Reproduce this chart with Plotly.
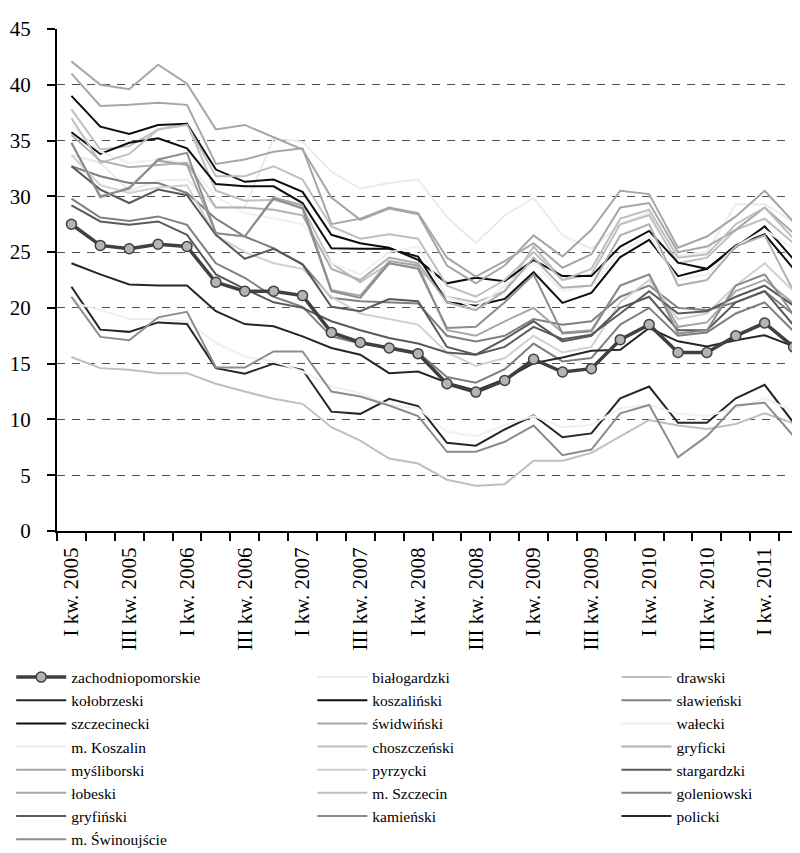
import plotly.graph_objects as go

quarters = [f"{q} kw. {y}" for y in range(2005, 2012) for q in ["I", "II", "III", "IV"]][:26]
x_idx = list(range(len(quarters)))
label_idx = list(range(0, 26, 2))
label_text = [quarters[i] for i in label_idx]

zachodniopomorskie = [27.5, 25.6, 25.3, 25.7, 25.5, 22.3, 21.5, 21.5, 21.1, 17.8, 16.9, 16.4, 15.9, 13.2, 12.45, 13.5, 15.4, 14.25, 14.55, 17.15, 18.5, 16.0, 16.0, 17.5, 18.65, 16.5]
bialogardzki = [33.7, 33.0, 30.5, 31.4, 31.5, 29.0, 29.0, 35.2, 34.9, 32.2, 30.7, 31.2, 31.5, 28.15, 25.8, 28.3, 29.85, 26.5, 25.3, 27.5, 28.5, 24.7, 25.0, 29.3, 29.3, 27.7]
drawski = [37.8, 34.2, 34.5, 36.0, 36.5, 30.5, 29.6, 29.7, 29.0, 24.0, 22.3, 24.0, 23.6, 21.0, 20.5, 21.5, 25.5, 22.5, 23.0, 27.5, 28.3, 24.0, 24.5, 27.0, 28.0, 25.8]
kolobrzeski = [21.9, 18.05, 17.85, 18.7, 18.55, 14.6, 14.1, 15.0, 14.45, 10.7, 10.5, 11.85, 11.2, 7.9, 7.65, 9.1, 10.35, 8.4, 8.75, 11.9, 12.95, 9.7, 9.7, 11.9, 13.1, 9.7]
koszalinski = [39.0, 36.25, 35.6, 36.4, 36.5, 32.4, 31.3, 31.5, 30.4, 26.55, 25.8, 25.4, 24.3, 22.2, 22.7, 22.4, 24.3, 22.85, 22.85, 25.5, 26.9, 24.05, 23.5, 25.45, 27.3, 24.35]
slawienski = [32.7, 31.8, 31.2, 31.2, 30.3, 28.0, 26.4, 25.35, 23.9, 20.9, 20.6, 20.5, 20.4, 17.5, 17.0, 17.5, 19.0, 18.5, 18.8, 21.0, 22.0, 20.0, 19.8, 20.5, 21.5, 19.4]
szczecinecki = [35.75, 33.8, 34.8, 35.2, 34.3, 31.1, 30.9, 30.9, 29.4, 25.35, 25.3, 25.3, 24.6, 20.5, 20.2, 20.8, 23.2, 20.45, 21.35, 24.55, 26.1, 22.85, 23.5, 25.6, 26.6, 23.5]
swidwinski = [41.0, 38.1, 38.2, 38.4, 38.2, 32.9, 33.3, 34.0, 34.3, 27.5, 28.0, 29.0, 28.5, 24.5, 22.8, 24.2, 25.8, 23.6, 24.8, 29.0, 29.4, 25.0, 25.5, 27.0, 29.0, 26.7]
walecki = [36.4, 34.0, 33.0, 33.3, 33.0, 30.0, 28.5, 28.0, 27.5, 24.0, 23.0, 25.0, 25.5, 21.0, 20.0, 22.0, 24.0, 21.5, 22.0, 25.0, 26.5, 22.5, 23.0, 25.5, 27.0, 25.3]
m_koszalin = [20.5, 19.8, 19.0, 19.0, 18.8, 16.85, 15.65, 15.2, 14.3, 12.95, 12.35, 11.3, 11.0, 8.9, 8.5, 9.5, 10.3, 9.3, 9.5, 11.0, 11.3, 10.5, 10.3, 11.0, 11.9, 10.7]
choszczenski = [37.0, 33.0, 33.8, 36.0, 36.4, 31.8, 31.8, 32.7, 31.5, 27.3, 26.2, 26.6, 26.2, 22.0, 21.0, 22.5, 25.0, 22.5, 23.5, 28.0, 28.8, 24.5, 24.8, 27.5, 29.0, 26.2]
gryficki = [35.5, 33.2, 32.6, 32.8, 33.0, 29.0, 29.0, 28.8, 28.3, 23.5, 22.5, 24.5, 24.0, 20.5, 19.8, 21.5, 24.5, 21.8, 22.0, 26.5, 27.5, 22.0, 22.5, 25.5, 26.5, 21.5]
mysliborski = [34.8, 29.9, 30.8, 33.2, 32.8, 26.7, 26.4, 29.9, 29.2, 21.6, 21.1, 24.2, 23.8, 18.0, 17.5, 18.8, 20.0, 17.8, 18.0, 22.0, 23.0, 18.3, 18.7, 21.5, 22.5, 20.4]
pyrzycki = [33.7, 31.0, 30.3, 30.8, 31.0, 26.5, 25.0, 24.0, 23.5, 21.0, 19.5, 19.0, 18.5, 16.0, 14.8, 15.5, 17.5, 16.0, 16.5, 20.5, 22.5, 19.0, 19.5, 22.0, 24.0, 21.5]
stargardzki = [32.7, 30.6, 29.4, 30.6, 30.1, 26.55, 24.4, 25.3, 23.9, 20.1, 19.7, 20.8, 20.6, 16.5, 15.8, 17.2, 18.8, 17.0, 17.5, 20.0, 21.0, 18.0, 18.0, 20.5, 21.5, 18.45]
lobeski = [42.1, 40.0, 39.6, 41.8, 40.1, 36.0, 36.4, 35.3, 34.2, 29.9, 27.9, 28.9, 28.4, 23.8, 22.2, 23.8, 26.5, 24.6, 27.0, 30.5, 30.2, 25.4, 26.4, 28.2, 30.5, 27.7]
m_szczecin = [15.6, 14.6, 14.45, 14.15, 14.15, 13.2, 12.5, 11.85, 11.4, 9.3, 8.1, 6.5, 6.05, 4.6, 4.05, 4.2, 6.3, 6.3, 7.0, 8.5, 9.95, 9.45, 9.15, 9.6, 10.55, 9.65]
goleniowski = [29.8, 28.1, 27.8, 28.2, 27.45, 24.0, 22.7, 21.0, 20.1, 17.45, 16.8, 16.5, 16.0, 13.8, 13.3, 14.5, 16.8, 15.2, 15.5, 18.5, 20.0, 17.5, 17.8, 19.5, 20.5, 17.9]
gryfinski = [29.2, 27.75, 27.45, 27.75, 26.55, 23.0, 21.7, 20.5, 20.0, 18.8, 18.0, 17.3, 16.8, 16.0, 15.8, 16.5, 18.3, 17.2, 17.6, 19.5, 21.5, 19.5, 19.7, 21.0, 22.0, 20.2]
kamienski = [34.8, 30.0, 30.7, 33.3, 33.9, 26.7, 26.4, 29.8, 28.9, 21.5, 20.9, 24.0, 23.5, 18.2, 18.3, 20.5, 23.0, 17.7, 17.9, 22.0, 23.0, 17.7, 18.0, 22.0, 23.0, 19.4]
policki = [24.0, 23.0, 22.1, 22.0, 22.0, 19.7, 18.55, 18.35, 17.45, 16.4, 15.8, 14.15, 14.3, 13.3, 12.6, 13.6, 15.05, 15.55, 16.15, 16.25, 18.2, 17.0, 16.55, 17.1, 17.55, 16.55]
m_swinoujscie = [21.0, 17.4, 17.1, 19.15, 19.65, 14.65, 14.65, 16.1, 16.1, 12.5, 12.05, 11.25, 10.3, 7.1, 7.1, 8.0, 9.45, 6.8, 7.3, 10.55, 11.3, 6.6, 8.5, 11.25, 11.5, 8.5]

series_names = ["zachodniopomorskie", "białogardzki", "drawski", "kołobrzeski", "koszaliński",
                "sławieński", "szczecinecki", "świdwiński", "wałecki", "m. Koszalin",
                "choszczeński", "gryficki", "myśliborski", "pyrzycki", "stargardzki",
                "łobeski", "m. Szczecin", "goleniowski", "gryfiński", "kamieński",
                "policki", "m. Świnoujście"]
series_values = [zachodniopomorskie, bialogardzki, drawski, kolobrzeski, koszalinski,
                 slawienski, szczecinecki, swidwinski, walecki, m_koszalin,
                 choszczenski, gryficki, mysliborski, pyrzycki, stargardzki,
                 lobeski, m_szczecin, goleniowski, gryfinski, kamienski,
                 policki, m_swinoujscie]
series_colors = ["#404040", "#ebebeb", "#bfbfbf", "#262626", "#0d0d0d",
                 "#7f7f7f", "#0d0d0d", "#a6a6a6", "#f0f0f0", "#f0f0f0",
                 "#bfbfbf", "#b0b0b0", "#a6a6a6", "#d0d0d0", "#595959",
                 "#a6a6a6", "#bfbfbf", "#7f7f7f", "#595959", "#8c8c8c",
                 "#262626", "#8c8c8c"]

FONT = "Liberation Serif, Times New Roman, Times, DejaVu Serif, serif"
LEG_FONT = 15.5
fig = go.Figure()

# three legend columns, filled row by row as in the original
legend_ids = ["legend", "legend2", "legend3"]
order = list(range(1, len(series_names))) + [0]
for k in order:
    name, vals, col = series_names[k], series_values[k], series_colors[k]
    leg = legend_ids[k % 3]
    if k == 0:
        fig.add_trace(go.Scatter(
            x=x_idx, y=vals, name=name, mode="lines+markers",
            line=dict(color=col, width=3.5),
            marker=dict(symbol="circle", size=10, color="#b4b4b4",
                        line=dict(color="#404040", width=1.5)),
            legend=leg, legendrank=k + 1))
    else:
        fig.add_trace(go.Scatter(
            x=x_idx, y=vals, name=name, mode="lines",
            line=dict(color=col, width=2), legend=leg, legendrank=k + 1))

leg_common = dict(orientation="v", yanchor="top", y=-0.258, itemwidth=50,
                  font=dict(family=FONT, size=LEG_FONT, color="black"),
                  traceorder="normal", bgcolor="rgba(0,0,0,0)", tracegroupgap=0)
fig.update_layout(
    width=800, height=853,
    margin=dict(l=49, r=0, t=21, b=330, autoexpand=False),
    paper_bgcolor="white", plot_bgcolor="white",
    font=dict(family=FONT, color="black", size=21),
    showlegend=True,
    legend=dict(x=-0.061, xanchor="left", **leg_common),
    legend2=dict(x=0.340, xanchor="left", **leg_common),
    legend3=dict(x=0.745, xanchor="left", **leg_common),
)

fig.update_xaxes(
    range=[-0.5, 25.5], showgrid=False, zeroline=False,
    showline=True, linecolor="black", linewidth=2,
    tickmode="array", tickvals=label_idx, ticktext=label_text,
    ticks="", tickangle=-90, tickfont=dict(family=FONT, size=21),
    ticklabelstandoff=6,
    minor=dict(tickmode="array", tickvals=[i - 0.5 for i in range(27)],
               ticks="outside", ticklen=8, tickwidth=2, tickcolor="black", showgrid=False),
)
fig.update_yaxes(
    range=[0, 45], dtick=5, tick0=0,
    showgrid=True, gridcolor="#505050", gridwidth=1, griddash="8px,7px",
    zeroline=False, showline=True, linecolor="black", linewidth=2,
    ticks="outside", ticklen=8, tickwidth=2, tickcolor="black",
    tickfont=dict(family=FONT, size=21), ticklabelstandoff=12,
)

fig.write_html("out.html")
